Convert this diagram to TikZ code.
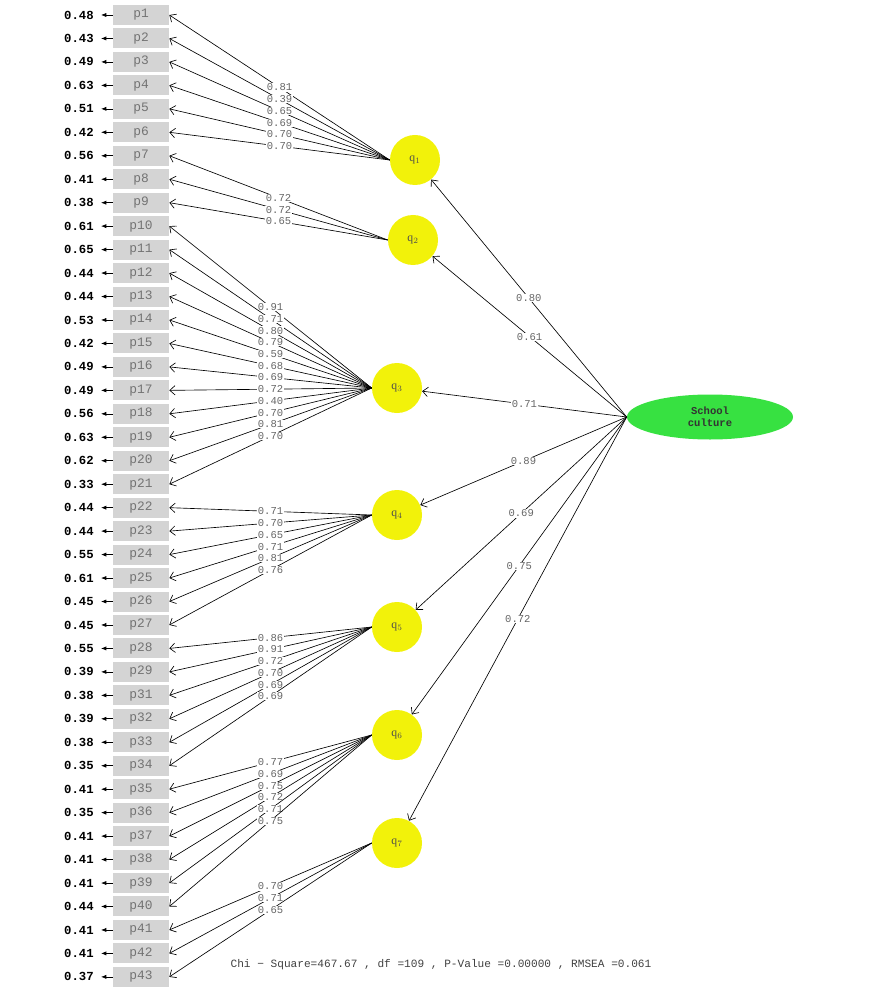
\documentclass[tikz,border=0pt]{standalone}
\usepackage{fontspec}
\setmainfont{Liberation Serif}
\setmonofont{Liberation Mono}
\usetikzlibrary{arrows.meta}
\usetikzlibrary{shapes.geometric}

\definecolor{scgreen}{RGB}{55,225,65}
\definecolor{facyellow}{RGB}{242,242,10}

\begin{document}
\begin{tikzpicture}[x=0.03cm, y=-0.03cm, line width=0.55pt,
  item/.style={fill=black!17, text=black!55, minimum width=1.68cm, minimum height=0.6cm, inner sep=0pt, font=\fontsize{11}{11}\ttfamily},
  errv/.style={anchor=east, inner ysep=1pt, inner xsep=6pt, font=\fontsize{10.5}{11}\ttfamily\bfseries},
  fac/.style={circle, fill=facyellow, minimum size=1.5cm, inner sep=0pt, text=black!70, font=\normalsize},
  ld/.style={midway, fill=white, inner sep=0.4pt, text=black!60, font=\fontsize{9}{9}\ttfamily}]
\useasboundingbox (0,0) rectangle (885,992);

% observed items and their error variances
\foreach \n/\e [count=\i from 0] in {1/0.48, 2/0.43, 3/0.49, 4/0.63, 5/0.51, 6/0.42, 7/0.56, 8/0.41, 9/0.38, 10/0.61, 11/0.65, 12/0.44, 13/0.44, 14/0.53, 15/0.42, 16/0.49, 17/0.49, 18/0.56, 19/0.63, 20/0.62, 21/0.33, 22/0.44, 23/0.44, 24/0.55, 25/0.61, 26/0.45, 27/0.45, 28/0.55, 29/0.39, 31/0.38, 32/0.39, 33/0.38, 34/0.35, 35/0.41, 36/0.35, 37/0.41, 38/0.41, 39/0.41, 40/0.44, 41/0.41, 42/0.41, 43/0.37} {
  \node[item] (p\n) at (141, 15+23.46*\i) {p\n};
  \node[errv] (e\n) at (101, 15+23.46*\i) {\e};
  \draw[-{Latex[length=4.5pt,width=3.5pt]}] (p\n) -- (e\n);
}

% first order factors
\node[fac] (q1) at (415,160) {q$_1$};
\node[fac] (q2) at (413,240) {q$_2$};
\node[fac] (q3) at (397,388) {q$_3$};
\node[fac] (q4) at (397,515) {q$_4$};
\node[fac] (q5) at (397,627) {q$_5$};
\node[fac] (q6) at (397,735) {q$_6$};
\node[fac] (q7) at (397,843) {q$_7$};

% loadings
\foreach \f/\lst in {1/{1/0.81,2/0.39,3/0.65,4/0.69,5/0.70,6/0.70},
    2/{7/0.72,8/0.72,9/0.65},
    3/{10/0.91,11/0.71,12/0.80,13/0.79,14/0.59,15/0.68,16/0.69,17/0.72,18/0.40,19/0.70,20/0.81,21/0.70},
    4/{22/0.71,23/0.70,24/0.65,25/0.71,26/0.81,27/0.76},
    5/{28/0.86,29/0.91,31/0.72,32/0.70,33/0.69,34/0.69},
    6/{35/0.77,36/0.69,37/0.75,38/0.72,39/0.71,40/0.75},
    7/{41/0.70,42/0.71,43/0.65}}
  \foreach \n/\l in \lst
    \draw[-{Straight Barb[length=4.5pt,width=8pt]}] (q\f.west) -- (p\n.east) node[ld] {\l};

% second order factor
\node[ellipse, fill=scgreen, minimum width=4.98cm, minimum height=1.35cm, inner sep=0pt, align=center, text=black!80, font=\fontsize{9}{10}\ttfamily\bfseries] (sc) at (710,417) {School\\culture};

\foreach \f/\l in {1/0.80,2/0.61,3/0.71,4/0.89,5/0.69,6/0.75,7/0.72}
  \draw[-{Straight Barb[length=4.5pt,width=8pt]}] (sc.west) -- (q\f) node[ld] {\l};

\node[font=\fontsize{9.5}{10}\ttfamily, text=black!75] (fit) at (441,965) {Chi − Square=467.67 ,  df =109 , P-Value =0.00000 , RMSEA =0.061};

\end{tikzpicture}
\end{document}
